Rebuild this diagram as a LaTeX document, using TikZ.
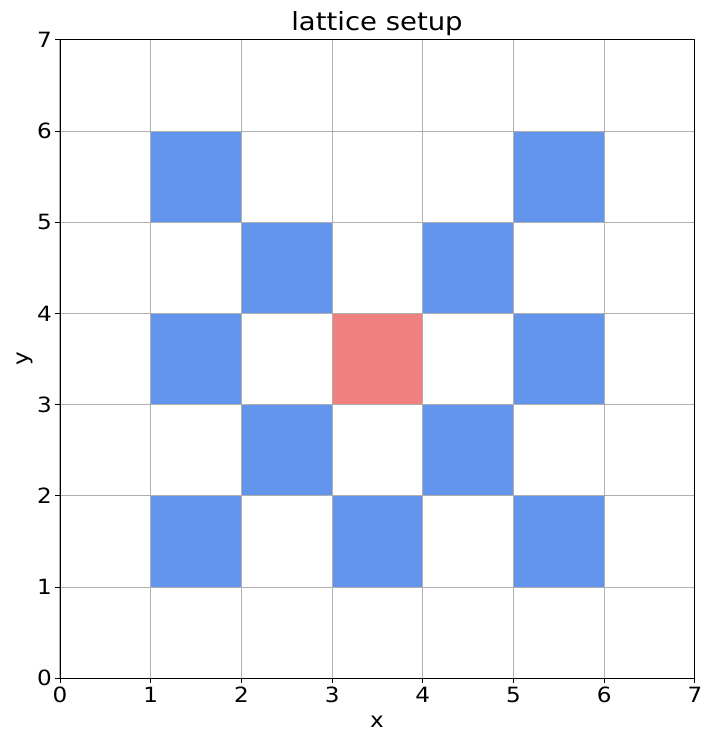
\documentclass[tikz,border=0pt]{standalone}
\usepackage{fontspec}
\setmainfont{DejaVu Sans}
\definecolor{cblue}{HTML}{6495ED}
\definecolor{lcoral}{HTML}{F08080}
\definecolor{gridgray}{HTML}{B0B0B0}
\newcommand{\wtxt}[1]{\scalebox{1.1}[1]{#1}}
\begin{document}
\begin{tikzpicture}[x=1pt,y=-1pt,
  cellblue/.style={fill=cblue},
  cellred/.style={fill=lcoral},
  gridline/.style={draw=gridgray,line width=1.1pt},
  spine/.style={draw=black,line width=1.0pt},
  tickmark/.style={draw=black,line width=1.0pt},
  ticklbl/.style={font=\fontsize{21}{25}\selectfont,inner sep=0pt},
  axlbl/.style={font=\fontsize{21}{25}\selectfont,inner sep=0pt}]
\useasboundingbox (0,0) rectangle (713,747);
\fill[white] (0,0) rectangle (713,747);
% map: X(u)=60+90.7u, Y(v)=678.3-91.2v
\def\ux{90.7}\def\uy{91.2}
\foreach \i/\j in {1/5,5/5,2/4,4/4,1/3,5/3,2/2,4/2,1/1,3/1,5/1}{
  \fill[cellblue] ({60+\ux*\i},{678.3-\uy*\j}) rectangle ({60+\ux*(\i+1)},{678.3-\uy*(\j+1)});
}
\fill[cellred] ({60+\ux*3},{678.3-\uy*3}) rectangle ({60+\ux*4},{678.3-\uy*4});
\foreach \k in {0,...,7}{
  \draw[gridline] ({60+\ux*\k},678.3) -- ({60+\ux*\k},{678.3-\uy*7});
  \draw[gridline] (60,{678.3-\uy*\k}) -- ({60+\ux*7},{678.3-\uy*\k});
  \draw[tickmark] ({60+\ux*\k},678.3) -- ({60+\ux*\k},683.3);
  \draw[tickmark] (60,{678.3-\uy*\k}) -- (55,{678.3-\uy*\k});
  \node[ticklbl,anchor=north] (xt\k) at ({60+\ux*\k},687) {\wtxt{\k}};
  \node[ticklbl,anchor=east] (yt\k) at (52,{678.3-\uy*\k}) {\wtxt{\k}};
}
\draw[spine] (60,678.3) rectangle ({60+\ux*7},{678.3-\uy*7});
\node[font=\fontsize{25}{30}\selectfont,inner sep=0pt,anchor=base] (title) at (377,30) {\wtxt{lattice setup}};
\node[axlbl,anchor=base] (xlab) at (377,727.3) {\wtxt{x}};
\node[axlbl,rotate=90] (ylab) at (25,359) {\wtxt{y}};
\end{tikzpicture}
\end{document}
